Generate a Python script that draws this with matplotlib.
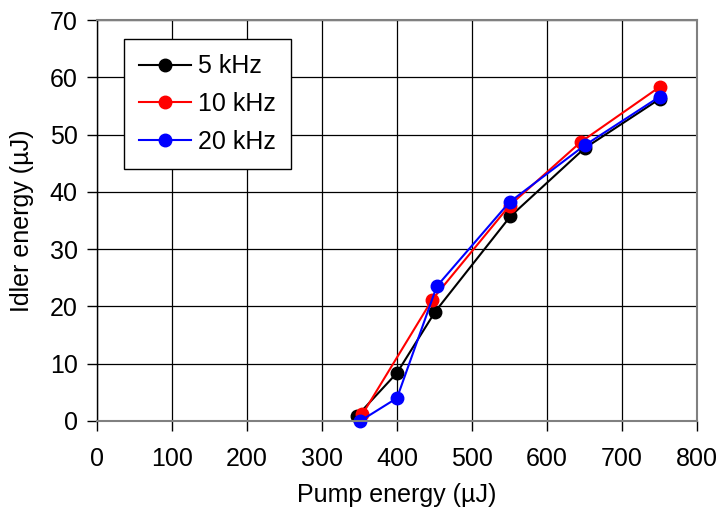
import matplotlib; matplotlib.use('Agg')
import matplotlib.pyplot as plt

plt.rcParams['font.family'] = ['Liberation Sans', 'DejaVu Sans']

# 读图估计的数据 (µJ)
x5 = [347, 400, 451, 551, 650, 750]
y5 = [0.9, 8.4, 19.1, 35.7, 47.6, 56.2]
x10 = [354, 447, 550, 645, 750]
y10 = [1.2, 21.2, 37.6, 48.7, 58.3]
x20 = [351, 400, 453, 550, 650, 750]
y20 = [0.0, 4.0, 23.5, 38.2, 48.1, 56.6]

fig = plt.figure(figsize=(7.22, 5.08), dpi=100)
ax = fig.add_axes([0.1343, 0.1713, 0.8311, 0.7893])
kw = dict(marker='o', ms=9, lw=1.5, clip_on=False)
ax.plot(x5, y5, color='black', label='5 kHz', **kw)
ax.plot(x10, y10, color='red', label='10 kHz', **kw)
ax.plot(x20, y20, color='blue', label='20 kHz', **kw)

ax.set_xlim(0, 800); ax.set_ylim(0, 70)
ax.set_xticks(range(0, 801, 100)); ax.set_yticks(range(0, 71, 10))
ax.grid(True, color='black', lw=0.9)
ax.set_axisbelow(True)
for s in ax.spines.values():
    s.set_color('#808080'); s.set_linewidth(1.5)
ax.spines['left'].set_color('black'); ax.spines['left'].set_linewidth(1)
ax.tick_params(labelsize=18, direction='out', length=7, width=1, color='black')
ax.tick_params(axis='x', pad=12)
ax.tick_params(axis='y', pad=7)
ax.set_xlabel('Pump energy (µJ)', fontsize=18)
ax.set_ylabel('Idler energy (µJ)', fontsize=18)
ax.xaxis.set_label_coords(0.5, -0.155)
ax.yaxis.set_label_coords(-0.105, 0.5)
leg = ax.legend(loc='upper left', bbox_to_anchor=(0.045, 0.952), fontsize=18, fancybox=False,
                framealpha=1, edgecolor='black', handlelength=2.1, borderpad=0.6,
                labelspacing=0.55, handletextpad=0.25, borderaxespad=0)
leg.get_frame().set_linewidth(1)
fig.savefig('out.png', dpi=100)
